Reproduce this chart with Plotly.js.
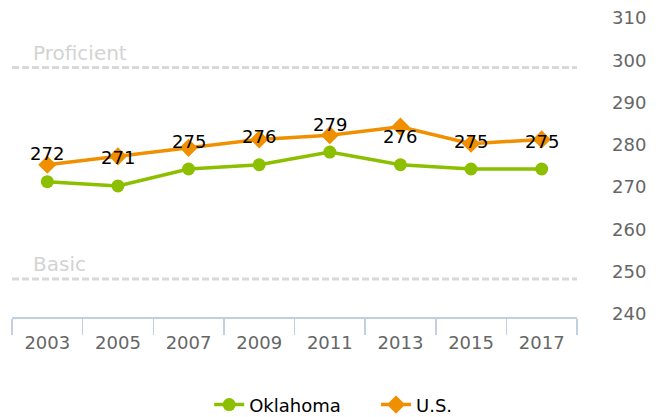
<!DOCTYPE html>
<html>
<head>
<meta charset="utf-8">
<script src="https://cdn.plot.ly/plotly-3.0.1.min.js"></script>
<style>html,body{margin:0;padding:0;background:#fff;}#chart{width:662px;height:417px;}</style>
</head>
<body>
<div id="chart"></div>
<script>
const years = ["2003","2005","2007","2009","2011","2013","2015","2017"];
const oklahoma = [272, 271, 275, 276, 279, 276, 275, 275];
const us = [276, 278, 280, 282, 283, 285, 281, 282];
const levelNames = ["Proficient", "Basic"];
const levelValues = [299, 249];
const yTicks = [240, 250, 260, 270, 280, 290, 300, 310];

const FONT = "DejaVu Sans, Verdana, sans-serif";
const GREEN = "#8bbf00";
const ORANGE = "#f08f00";

const traces = [
  {
    x: years, y: oklahoma, name: "Oklahoma", type: "scatter", mode: "lines+markers",
    line: {color: GREEN, width: 3.5},
    marker: {symbol: "circle", size: 13, color: GREEN},
    legend: "legend",
    hoverinfo: "skip"
  },
  {
    x: years, y: us, name: "U.S.", type: "scatter", mode: "lines+markers",
    line: {color: ORANGE, width: 3.5},
    marker: {symbol: "diamond", size: 14, color: ORANGE},
    legend: "legend2",
    hoverinfo: "skip"
  }
];

const shapes = levelValues.map(v => ({
  type: "line", xref: "paper", yref: "y", x0: 0, x1: 1, y0: v, y1: v,
  line: {color: "#d9d9d9", width: 3, dash: "7px,3px"}, layer: "below"
}));

const annotations = [];
levelNames.forEach((n, i) => annotations.push({
  xref: "paper", yref: "y", x: 0.034, y: levelValues[i], text: n,
  xanchor: "left", yanchor: "bottom", yshift: 1, showarrow: false,
  font: {family: FONT, size: 20, color: "#d3d3d3"}
}));
years.forEach((yr, i) => annotations.push({
  xref: "x", yref: "y", x: i, y: oklahoma[i], text: String(oklahoma[i]), showarrow: false,
  yshift: 28, font: {family: FONT, size: 18, color: "#000"}
}));

const legendBase = {
  orientation: "h", xref: "container", yref: "container",
  xanchor: "left", y: 0.029, yanchor: "middle",
  font: {family: FONT, size: 18, color: "#000"}, itemwidth: 30,
  bgcolor: "rgba(0,0,0,0)"
};

const layout = {
  width: 662, height: 417,
  margin: {l: 12, r: 85, t: 21, b: 100, pad: 0, autoexpand: false},
  paper_bgcolor: "#fff", plot_bgcolor: "#fff",
  showlegend: true,
  legend: Object.assign({}, legendBase, {x: 0.316}),
  legend2: Object.assign({}, legendBase, {x: 0.568}),
  xaxis: {
    type: "category", range: [-0.5, 7.5], tickson: "boundaries",
    ticks: "outside", ticklen: 16, tickcolor: "#c0d0e0", tickwidth: 1.5,
    showline: true, linecolor: "#c0d0e0", linewidth: 1.5,
    showgrid: false, zeroline: false, fixedrange: true,
    ticklabelstandoff: 9,
    tickfont: {family: FONT, size: 18, color: "#666"}
  },
  yaxis: {
    side: "right", range: [240, 310], tickvals: yTicks,
    showgrid: false, zeroline: false, showline: false, ticks: "",
    ticklabelstandoff: 34, ticklabelshift: -3,
    tickfont: {family: FONT, size: 18, color: "#666"}
  },
  shapes: shapes,
  annotations: annotations
};

Plotly.newPlot("chart", traces, layout, {displayModeBar: false, staticPlot: true});
</script>
</body>
</html>
